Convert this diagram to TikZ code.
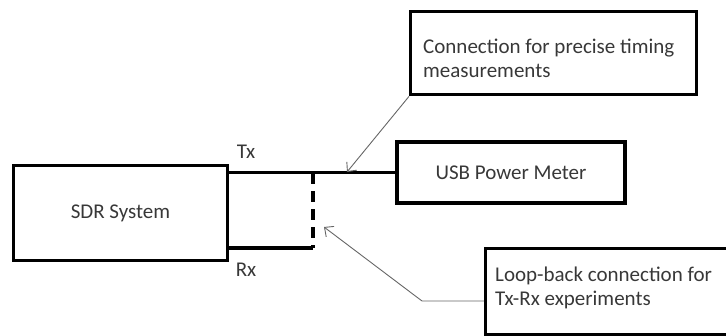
\documentclass[tikz,border=0pt]{standalone}
\usepackage{fontspec}
\setmainfont{Carlito}
\usetikzlibrary{arrows.meta}

\tikzset{
	blockbox/.style={draw, line width=3.4pt, inner sep=0pt, text=black!78},
	blocktext/.style={anchor=base west, inner sep=0pt, align=left, text=black!78},
	pointer/.style={draw=black!60, line width=0.9pt, -{Straight Barb[length=7pt, width=13pt]}},
	wire/.style={line width=3.4pt}
}

\begin{document}
\begin{tikzpicture}[x=1pt, y=-1pt, font=\fontsize{21}{24}\selectfont]
	\useasboundingbox (0,0) rectangle (726,335);
	\clip (0,0) rectangle (726,335);
	
	% Blocks
	\node[blockbox, minimum width=214pt, minimum height=95pt] (sdr) at (120.5,213) {SDR System};
	\node[blockbox, minimum width=228pt, minimum height=61pt] (usb) at (511,172.5) {USB Power Meter};
	\node[blockbox, minimum width=286pt, minimum height=83pt, anchor=north west] (timing) at (409,10) {};
	\node[blockbox, minimum width=260pt, minimum height=86pt, anchor=north west] (loop) at (484,247) {};
	% base is the last line here
	\node[blocktext] (timingtext) at ([shift={(14,67)}]timing.north west)
		{Connection for precise timing\\measurements};
	\node[blocktext] (looptext) at ([shift={(11,58)}]loop.north west)
		{Loop-back connection for\\Tx-Rx experiments};
	
	% Tx and Rx lines
	\coordinate (rxend) at (313,248);
	\coordinate (txtap) at (313,173);
	\draw[wire] (usb.west) -- (usb.west -| sdr.east);
	\draw[wire] (rxend -| sdr.east) -- (rxend);
	\draw[wire, dash pattern=on 11pt off 7pt] (txtap) -- (rxend);
	\node[text=black!78] (txlabel) at (246,152) {Tx};
	\node[text=black!78] (rxlabel) at (246,270) {Rx};
	
	% Pointers
	\coordinate (timingtip) at (347,172);
	\coordinate (looptip) at (324,227);
	\draw[pointer] (timing.south west) -- (timingtip);
	\draw[pointer] (loop.west |- 0,301) -- (422,301) -- (looptip);
\end{tikzpicture}
\end{document}
